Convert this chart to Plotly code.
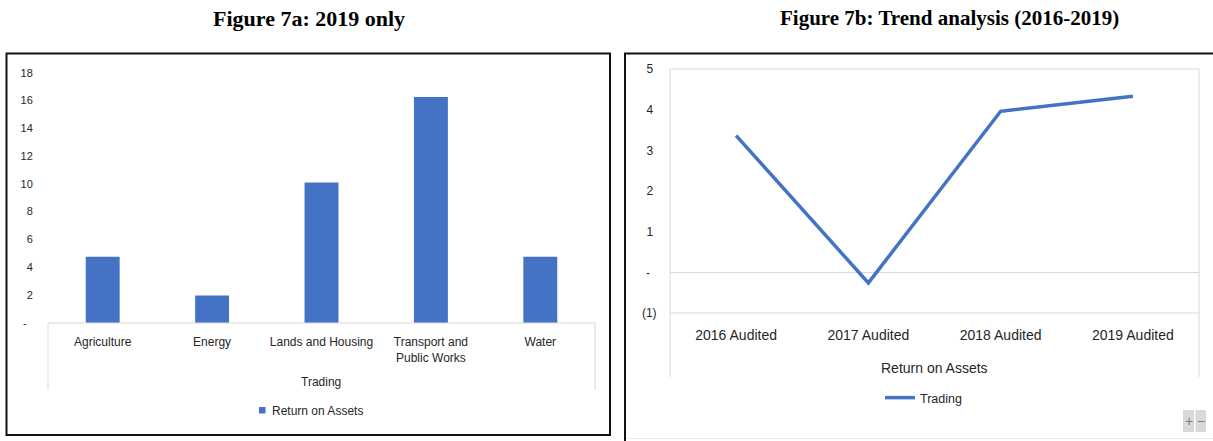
import plotly.graph_objects as go

# ---- data -------------------------------------------------------------
sectors = ["Agriculture", "Energy", "Lands and Housing",
           "Transport and Public Works", "Water"]
sector_labels = ["Agriculture", "Energy", "Lands and Housing",
                 "Transport and<br>Public Works", "Water"]
roa_2019 = [4.75, 1.95, 10.1, 16.25, 4.75]

bar_ticks = [0, 2, 4, 6, 8, 10, 12, 14, 16, 18]
bar_tick_text = ["-\u00a0\u00a0", "2", "4", "6", "8", "10", "12", "14", "16", "18"]

years = ["2016 Audited", "2017 Audited", "2018 Audited", "2019 Audited"]
roa_trend = [3.36, -0.26, 3.96, 4.33]

line_ticks = [-1, 0, 1, 2, 3, 4, 5]
line_tick_text = ["(1)", "-\u00a0\u00a0", "1\u00a0", "2\u00a0", "3\u00a0", "4\u00a0", "5\u00a0"]

# ---- canvas helpers ---------------------------------------------------
W, H = 1213, 441


def fx(x):
    return x / W


def fy(y):
    return 1 - y / H


BLUE = "#4472C4"
GRID = "#d9d9d9"
TEXT = "#262626"
SANS = "Liberation Sans, Arial, sans-serif"
SERIF = "Liberation Serif, Times New Roman, serif"

fig = go.Figure()

fig.add_trace(go.Bar(
    x=sectors, y=roa_2019, name="Return on Assets",
    marker=dict(color=BLUE, line=dict(width=0)),
    showlegend=False, xaxis="x", yaxis="y",
))

fig.add_trace(go.Scatter(
    x=years, y=roa_trend, name="Trading", mode="lines",
    line=dict(color=BLUE, width=3.5),
    showlegend=True, xaxis="x2", yaxis="y2",
))

shapes = []


def line(x0, y0, x1, y1, color=GRID, width=1):
    shapes.append(dict(type="line", xref="paper", yref="paper",
                       x0=fx(x0), y0=fy(y0), x1=fx(x1), y1=fy(y1),
                       line=dict(color=color, width=width), layer="below"))


# outer panel frames
shapes.append(dict(type="rect", xref="paper", yref="paper",
                   x0=fx(6.5), y0=fy(435), x1=fx(610), y1=fy(53.5),
                   line=dict(color="#111", width=2)))
shapes.append(dict(type="rect", xref="paper", yref="paper",
                   x0=fx(625), y0=fy(460), x1=fx(1240), y1=fy(53.5),
                   line=dict(color="#111", width=2)))
line(626, 438.5, 1213, 438.5, color="#ececec")

# left chart: category-axis box
line(48, 323, 595, 323)
line(48, 323, 48, 390)
line(595, 323, 595, 390)

# right chart: plot box and category box
line(670, 69, 1199, 69)
line(670, 313, 1199, 313)
line(670, 69, 670, 377)
line(1199, 69, 1199, 377)

# legend swatch for the bar series
shapes.append(dict(type="rect", xref="paper", yref="paper",
                   x0=fx(259), y0=fy(413.5), x1=fx(265.5), y1=fy(407),
                   fillcolor=BLUE, line=dict(width=0)))

# zoom buttons in the corner
for bx0, bx1 in [(1183, 1194), (1195.5, 1206)]:
    shapes.append(dict(type="rect", xref="paper", yref="paper",
                       x0=fx(bx0), y0=fy(432), x1=fx(bx1), y1=fy(410),
                       fillcolor="#d9d9d9", line=dict(width=0)))

annotations = [
    dict(text="<b>Figure 7a: 2019 only</b>", x=fx(309), y=fy(18),
         font=dict(family=SERIF, size=22, color="#000")),
    dict(text="<b>Figure 7b: Trend analysis (2016-2019)</b>", x=fx(949), y=fy(18),
         font=dict(family=SERIF, size=21, color="#000")),
    dict(text="Trading", x=fx(321), y=fy(382),
         font=dict(family=SANS, size=12, color=TEXT)),
    dict(text="Return on Assets", x=fx(270), y=fy(410.5), xanchor="left",
         font=dict(family=SANS, size=12, color=TEXT)),
    dict(text="Return on Assets", x=fx(934.5), y=fy(368),
         font=dict(family=SANS, size=14, color=TEXT)),
    dict(text="+", x=fx(1188.5), y=fy(421),
         font=dict(family=SANS, size=14, color="#7f7f7f")),
    dict(text="\u2212", x=fx(1200.8), y=fy(421),
         font=dict(family=SANS, size=14, color="#7f7f7f")),
]
for a in annotations:
    a.update(xref="paper", yref="paper", showarrow=False)
    a.setdefault("xanchor", "center")
    a.setdefault("yanchor", "middle")

fig.update_layout(
    width=W, height=H, autosize=False,
    margin=dict(l=0, r=0, t=0, b=0, pad=0, autoexpand=False),
    paper_bgcolor="white", plot_bgcolor="white",
    bargap=0.69,
    shapes=shapes, annotations=annotations,
    xaxis=dict(domain=[fx(48), fx(595)], type="category",
               tickvals=sectors, ticktext=sector_labels, automargin=False,
               range=[-0.5, 4.5], showline=False, showgrid=False, zeroline=False,
               ticks="outside", ticklen=8, tickcolor="rgba(0,0,0,0)",
               tickfont=dict(family=SANS, size=12, color=TEXT)),
    yaxis=dict(domain=[fy(322.7), fy(72.7)], range=[0, 18], automargin=False,
               tickvals=bar_ticks, ticktext=bar_tick_text,
               showline=False, showgrid=False, zeroline=False,
               ticks="outside", ticklen=12, tickcolor="rgba(0,0,0,0)",
               tickfont=dict(family=SANS, size=11, color=TEXT)),
    xaxis2=dict(domain=[fx(670), fx(1199)], type="category", automargin=False,
                range=[-0.5, 3.5], anchor="y2",
                showline=False, showgrid=False, zeroline=False,
                ticks="outside", ticklen=9, tickcolor="rgba(0,0,0,0)",
                tickfont=dict(family=SANS, size=14, color=TEXT)),
    yaxis2=dict(domain=[fy(313), fy(69)], range=[-1, 5], anchor="x2", automargin=False,
                tickvals=line_ticks, ticktext=line_tick_text,
                showline=False, showgrid=False,
                zeroline=True, zerolinecolor=GRID, zerolinewidth=1,
                ticks="outside", ticklen=10, tickcolor="rgba(0,0,0,0)",
                tickfont=dict(family=SANS, size=12, color=TEXT)),
    legend=dict(x=fx(880), y=fy(398), xanchor="left", yanchor="middle",
                orientation="h", bgcolor="rgba(0,0,0,0)",
                font=dict(family=SANS, size=12.5, color=TEXT),
                itemwidth=30),
)

fig.write_html("out.html")
